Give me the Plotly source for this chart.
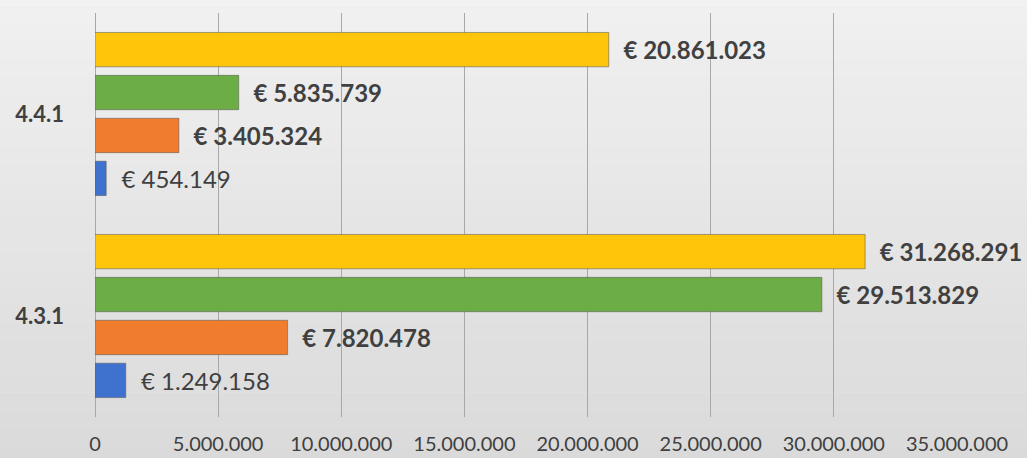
import plotly.graph_objects as go

categories = ["4.3.1", "4.4.1"]
blue_vals = [1249158, 454149]
orange_vals = [7820478, 3405324]
green_vals = [29513829, 5835739]
yellow_vals = [31268291, 20861023]
tick_vals = [0, 5000000, 10000000, 15000000, 20000000, 25000000, 30000000, 35000000]

FONT = "Lato, Open Sans, sans-serif"
TEXT_COLOR = "#404040"


def euro(v):
    return "\u00a0\u00a0€ " + f"{v:,}".replace(",", ".")


series = [
    (blue_vals, "#3f72cf", False),
    (orange_vals, "#f07d2e", True),
    (green_vals, "#6cad45", True),
    (yellow_vals, "#ffc50a", True),
]

fig = go.Figure()
for vals, color, bold in series:
    fig.add_trace(go.Bar(
        y=categories, x=vals, orientation="h",
        marker=dict(color=color, line=dict(color="rgba(90,90,90,0.55)", width=1)),
        text=[euro(v) for v in vals], textposition="outside", cliponaxis=False,
        textfont=dict(family=FONT, size=24, color=TEXT_COLOR,
                      weight="bold" if bold else "normal"),
        showlegend=False,
    ))

# light vertical gradient behind the chart
shapes = []
n = 30
for i in range(n):
    t = i / (n - 1)
    c = int(242 - t * (242 - 217))
    shapes.append(dict(type="rect", xref="paper", yref="paper",
                       x0=-0.2, x1=1.2, y0=1.1 - (i + 1) * 1.3 / n, y1=1.1 - i * 1.3 / n,
                       fillcolor=f"rgb({c},{c},{c})", line=dict(width=0), layer="below"))

fig.update_layout(
    width=1027, height=458,
    margin=dict(l=95, r=70, t=13, b=41),
    paper_bgcolor="#e6e6e6", plot_bgcolor="rgba(0,0,0,0)",
    barmode="group", bargap=0.15, bargroupgap=0.2,
    separators=",.",
    shapes=shapes,
    uniformtext=dict(minsize=24, mode="show"),
    xaxis=dict(range=[0, 35000000], tickvals=tick_vals, tickformat=",d",
               showgrid=True, gridcolor="#a8a8a8", gridwidth=1,
               zeroline=True, zerolinecolor="#a8a8a8", zerolinewidth=1,
               showline=False, ticks="", automargin=False,
               tickfont=dict(family=FONT, size=20, color=TEXT_COLOR), ticklabelstandoff=13),
    yaxis=dict(showgrid=False, zeroline=False, showline=False, ticks="", automargin=False,
               tickfont=dict(family=FONT, size=22, color=TEXT_COLOR, weight="bold"),
               ticklabelstandoff=30),
)

fig.write_html("out.html", config={"displayModeBar": False},
               post_script="document.body.style.margin='0';")
